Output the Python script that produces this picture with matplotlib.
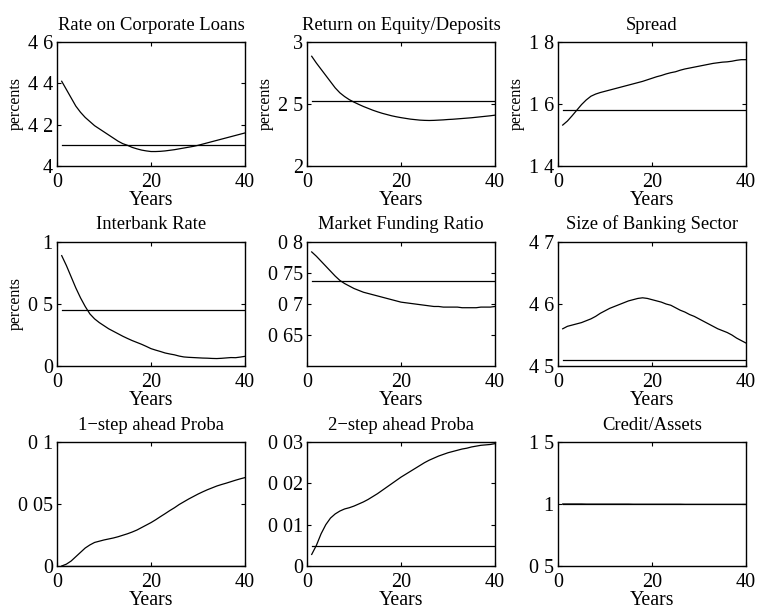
import matplotlib
matplotlib.use("Agg")
import matplotlib.pyplot as plt

plt.rcParams['font.family'] = ['Liberation Serif', 'DejaVu Serif']

years = list(range(1, 41))

titles = ["Rate on Corporate Loans", "Return on Equity/Deposits", "Spread",
          "Interbank Rate", "Market Funding Ratio", "Size of Banking Sector",
          "1\u2212step ahead Proba", "2\u2212step ahead Proba", "Credit/Assets"]

loan_rate = [4.41, 4.37, 4.33, 4.29, 4.26, 4.235, 4.215, 4.195, 4.18, 4.165,
             4.15, 4.135, 4.12, 4.108, 4.10, 4.09, 4.083, 4.077, 4.073, 4.07,
             4.07, 4.071, 4.073, 4.076, 4.079, 4.083, 4.087, 4.091, 4.095, 4.10,
             4.106, 4.112, 4.118, 4.124, 4.13, 4.136, 4.142, 4.148, 4.154, 4.16]
loan_rate_ss = 4.103

roe = [2.885, 2.83, 2.78, 2.73, 2.68, 2.63, 2.59, 2.56, 2.535, 2.515,
       2.497, 2.48, 2.465, 2.45, 2.437, 2.425, 2.415, 2.405, 2.397, 2.39,
       2.384, 2.378, 2.374, 2.37, 2.368, 2.367, 2.368, 2.37, 2.372, 2.375,
       2.377, 2.38, 2.383, 2.386, 2.389, 2.393, 2.397, 2.401, 2.405, 2.41]
roe_ss = 2.527

spread = [1.532, 1.545, 1.562, 1.58, 1.598, 1.613, 1.625, 1.632, 1.637, 1.641,
          1.645, 1.649, 1.653, 1.657, 1.661, 1.665, 1.669, 1.673, 1.678, 1.683,
          1.688, 1.692, 1.697, 1.701, 1.704, 1.709, 1.713, 1.716, 1.719, 1.722,
          1.725, 1.728, 1.731, 1.733, 1.735, 1.736, 1.738, 1.741, 1.743, 1.743]
spread_ss = 1.581

interbank = [0.89, 0.81, 0.72, 0.63, 0.55, 0.48, 0.42, 0.38, 0.35, 0.325,
             0.30, 0.28, 0.26, 0.24, 0.222, 0.205, 0.19, 0.175, 0.158, 0.14,
             0.128, 0.117, 0.105, 0.097, 0.09, 0.08, 0.073, 0.07, 0.068, 0.066,
             0.064, 0.063, 0.061, 0.06, 0.062, 0.065, 0.068, 0.067, 0.072, 0.078]
interbank_ss = 0.449

mfr = [0.784, 0.777, 0.769, 0.761, 0.753, 0.745, 0.738, 0.733, 0.729, 0.725,
       0.722, 0.719, 0.717, 0.715, 0.713, 0.711, 0.709, 0.707, 0.705, 0.703,
       0.702, 0.701, 0.700, 0.699, 0.698, 0.697, 0.696, 0.696, 0.695, 0.695,
       0.695, 0.695, 0.694, 0.694, 0.694, 0.694, 0.695, 0.695, 0.695, 0.696]
mfr_ss = 0.737

size = [4.560, 4.564, 4.566, 4.568, 4.570, 4.573, 4.576, 4.580, 4.585, 4.589,
        4.593, 4.596, 4.599, 4.602, 4.605, 4.607, 4.609, 4.610, 4.609, 4.607,
        4.605, 4.603, 4.600, 4.598, 4.594, 4.590, 4.587, 4.583, 4.580, 4.576,
        4.572, 4.568, 4.564, 4.560, 4.557, 4.554, 4.550, 4.545, 4.541, 4.537]
size_ss = 4.510

proba1 = [0.0, 0.0015, 0.004, 0.0075, 0.011, 0.0145, 0.017, 0.019, 0.020, 0.021,
          0.0218, 0.0226, 0.0236, 0.0248, 0.026, 0.0274, 0.029, 0.031, 0.033, 0.035,
          0.0373, 0.0398, 0.0422, 0.0447, 0.047, 0.0496, 0.0518, 0.054, 0.056, 0.058,
          0.0598, 0.0615, 0.063, 0.0645, 0.0657, 0.0668, 0.068, 0.0692, 0.0703, 0.0713]
proba1_ss = 0.0004

proba2 = [0.0028, 0.0050, 0.0078, 0.0100, 0.0116, 0.0126, 0.0133, 0.0138, 0.0141, 0.0145,
          0.0150, 0.0155, 0.0161, 0.0168, 0.0175, 0.0183, 0.0191, 0.0199, 0.0207, 0.0215,
          0.0222, 0.0229, 0.0236, 0.0243, 0.0250, 0.0256, 0.0261, 0.0266, 0.0270, 0.0274,
          0.0277, 0.0280, 0.0283, 0.0285, 0.0288, 0.0290, 0.0292, 0.0293, 0.0294, 0.0296]
proba2_ss = 0.00484

credit_assets = [1.000, 1.000, 1.000, 1.000, 1.000, 0.999, 0.999, 0.999, 0.999, 0.999,
                 0.999, 0.999, 0.999, 0.999, 0.999, 0.998, 0.998, 0.998, 0.998, 0.998,
                 0.998, 0.998, 0.998, 0.998, 0.998, 0.998, 0.997, 0.997, 0.997, 0.997,
                 0.997, 0.997, 0.997, 0.997, 0.997, 0.997, 0.997, 0.997, 0.997, 0.997]
credit_assets_ss = 1.0

series = [loan_rate, roe, spread, interbank, mfr, size, proba1, proba2, credit_assets]
steady = [loan_rate_ss, roe_ss, spread_ss, interbank_ss, mfr_ss, size_ss,
          proba1_ss, proba2_ss, credit_assets_ss]

ylims = [(4.0, 4.6), (2.0, 3.0), (1.4, 1.8), (0.0, 1.0), (0.6, 0.8), (4.5, 4.7),
         (0.0, 0.1), (0.0, 0.03), (0.5, 1.5)]
yticks = [[4.0, 4.2, 4.4, 4.6], [2.0, 2.5, 3.0], [1.4, 1.6, 1.8], [0.0, 0.5, 1.0],
          [0.65, 0.7, 0.75, 0.8], [4.5, 4.6, 4.7], [0.0, 0.05, 0.1],
          [0.0, 0.01, 0.02, 0.03], [0.5, 1.0, 1.5]]
ytick_labels = [["4", "4 2", "4 4", "4 6"], ["2", "2 5", "3"], ["1 4", "1 6", "1 8"],
                ["0", "0 5", "1"], ["0 65", "0 7", "0 75", "0 8"], ["4 5", "4 6", "4 7"],
                ["0", "0 05", "0 1"], ["0", "0 01", "0 02", "0 03"], ["0 5", "1", "1 5"]]
xticks = [0, 20, 40]
xtick_labels = ["0", "20", "40"]
has_ylabel = [True, True, True, True, False, False, False, False, False]

W, H = 758, 612
fig = plt.figure(figsize=(W / 100, H / 100), dpi=100)
lefts = [57, 307, 558]
tops = [42, 242, 442]
aw, ah = 188, 124

for i in range(9):
    r, c = divmod(i, 3)
    ax = fig.add_axes([lefts[c] / W, (H - tops[r] - ah) / H, aw / W, ah / H])
    ax.plot(years, series[i], color='black', lw=0.9)
    ax.plot([years[0], years[-1]], [steady[i], steady[i]], color='black', lw=0.9)
    ax.set_xlim(0, 40)
    ax.set_ylim(*ylims[i])
    ax.set_xticks(xticks)
    ax.set_xticklabels(xtick_labels)
    ax.set_yticks(yticks[i])
    ax.set_yticklabels(ytick_labels[i])
    ax.tick_params(direction='in', top=True, right=True, length=3, width=0.8,
                   labelsize=14.5)
    ax.tick_params(axis='x', pad=5)
    ax.tick_params(axis='y', pad=3)
    for s in ax.spines.values():
        s.set_linewidth(1.0)
    ax.set_title(titles[i], fontsize=13.4, pad=9)
    ax.set_xlabel("Years", fontsize=14.3, labelpad=-1)
    if has_ylabel[i]:
        ax.set_ylabel("percents", fontsize=11.5, labelpad=3)

fig.savefig("out.png", dpi=100)
